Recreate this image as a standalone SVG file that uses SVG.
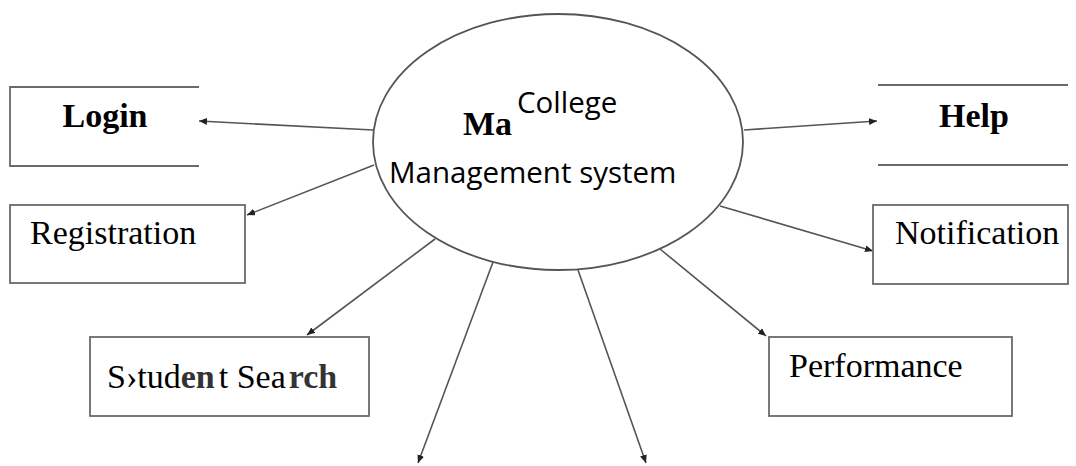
<svg xmlns="http://www.w3.org/2000/svg" width="1076" height="466" viewBox="0 0 1076 466">
  <style>
    .box { fill: none; stroke: #6a6a6a; stroke-width: 1.8; }
    .edge { fill: none; stroke: #555; stroke-width: 1.6; }
    .serif { font-family: "Liberation Serif", "Times New Roman", serif; font-size: 34px; fill: #000; }
    .bold { font-weight: bold; }
    .sans { font-family: "Open Sans", "Liberation Sans", sans-serif; font-size: 29.5px; fill: #000; }
  </style>
  <defs>
    <marker id="arrow" markerUnits="userSpaceOnUse" markerWidth="9" markerHeight="7" refX="8" refY="3.5" orient="auto">
      <path d="M0,0 L8,3.5 L0,7 z" fill="#222"/>
    </marker>
  </defs>
  <rect width="1076" height="466" fill="#fff"/>

  <g id="connectors">
    <line class="edge" x1="373" y1="130" x2="199" y2="121" marker-end="url(#arrow)"/>
    <line class="edge" x1="374" y1="165" x2="247" y2="215" marker-end="url(#arrow)"/>
    <line class="edge" x1="435" y1="239" x2="307" y2="335" marker-end="url(#arrow)"/>
    <line class="edge" x1="493" y1="262" x2="418" y2="463" marker-end="url(#arrow)"/>
    <line class="edge" x1="578" y1="270" x2="646" y2="463" marker-end="url(#arrow)"/>
    <line class="edge" x1="660" y1="249" x2="766" y2="336" marker-end="url(#arrow)"/>
    <line class="edge" x1="720" y1="206" x2="873" y2="251" marker-end="url(#arrow)"/>
    <line class="edge" x1="744" y1="130" x2="877" y2="121" marker-end="url(#arrow)"/>
  </g>

  <g id="center">
    <ellipse cx="558" cy="142" rx="185" ry="128" fill="none" stroke="#555" stroke-width="1.8"/>
    <text class="serif bold" x="463" y="135" fill="#2b2b2b">Ma</text>
    <text class="sans" x="517" y="113">College</text>
    <text class="sans" x="389" y="183">Management system</text>
  </g>

  <g id="login">
    <path class="box" d="M199,87 H10 V166 H199"/>
    <text class="serif bold" x="105" y="127" text-anchor="middle">Login</text>
  </g>

  <g id="registration">
    <rect class="box" x="10" y="205" width="235" height="78"/>
    <text class="serif" x="30" y="244">Registration</text>
  </g>

  <g id="student-search">
    <rect class="box" x="90" y="337" width="279" height="79"/>
    <text class="serif" x="107" y="388">S›tud<tspan class="bold" fill="#333">en</tspan><tspan dx="4">t Sea</tspan><tspan dx="3" class="bold" fill="#333">rch</tspan></text>
  </g>

  <g id="help">
    <line class="box" x1="878" y1="85" x2="1068" y2="85"/>
    <line class="box" x1="878" y1="165" x2="1068" y2="165"/>
    <text class="serif bold" x="974" y="127" text-anchor="middle">Help</text>
  </g>

  <g id="notification">
    <rect class="box" x="873" y="205" width="195" height="79"/>
    <text class="serif" x="895" y="244">Notification</text>
  </g>

  <g id="performance">
    <rect class="box" x="769" y="337" width="243" height="79"/>
    <text class="serif" x="789" y="377">Performance</text>
  </g>
</svg>
